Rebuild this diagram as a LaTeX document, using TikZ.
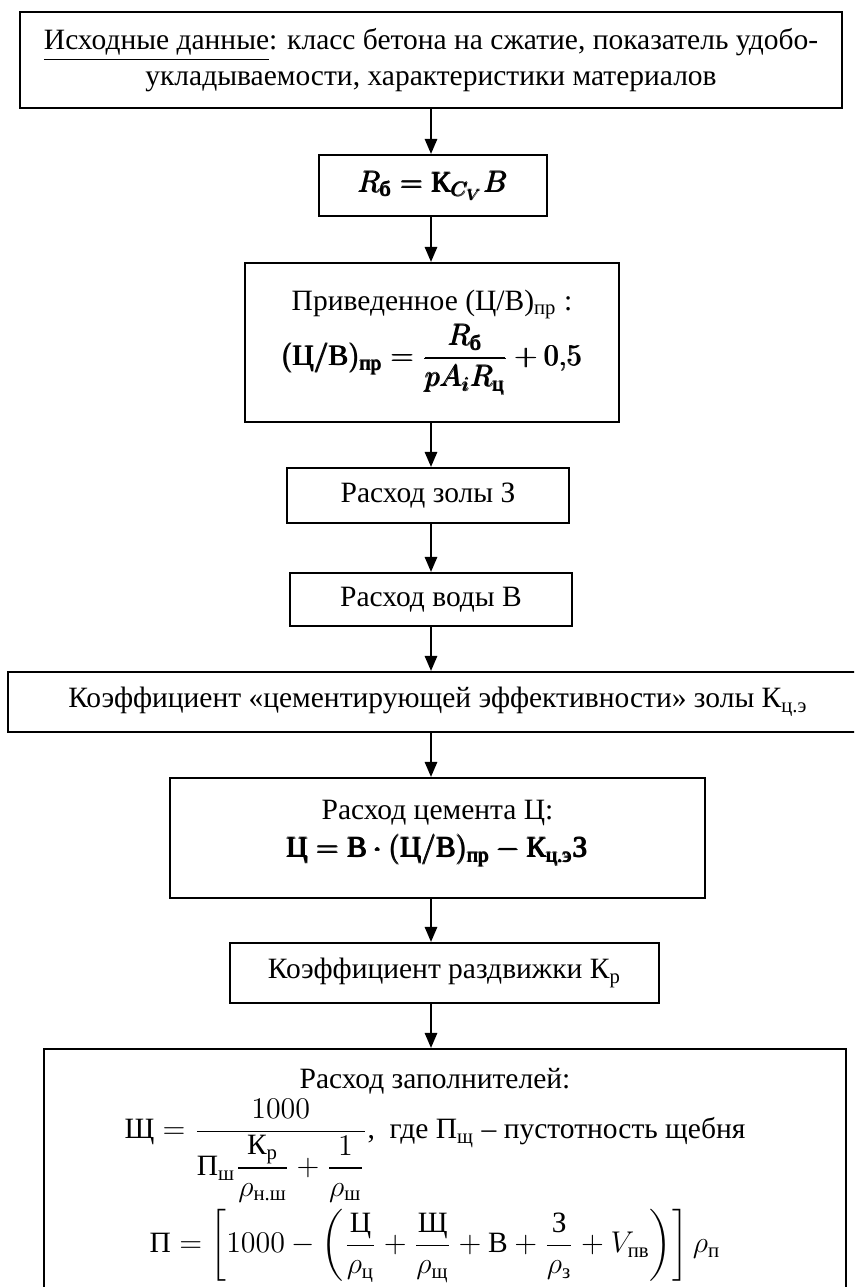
\documentclass[tikz,border=0pt]{standalone}
\usepackage{amsmath}
\usepackage{fontspec}
\setmainfont{Liberation Serif}
\usetikzlibrary{arrows.meta, positioning}
\newcommand{\cyr}[1]{\mathchoice{\mbox{#1}}{\mbox{#1}}{\mbox{\fontsize{8.3}{9}\selectfont #1}}{\mbox{\fontsize{6}{7}\selectfont #1}}}

\begin{document}
\begin{tikzpicture}[
        x=0.4pt, y=-0.4pt,
        >=Triangle,
        font=\fontsize{11.8}{14.4}\selectfont,
        box/.style={draw, line width=0.9pt, align=center, inner sep=2pt},
        lbl/.style={align=center, inner sep=0pt},
        arrow/.style={line width=0.6pt, -{Triangle[width=5pt, length=6pt]}}
    ]
        \useasboundingbox (0,0) rectangle (854,1287);
        \clip (0,0) rectangle (854,1287);
        \coordinate (spine) at (431,0);

        \node[box, minimum width=328.8pt, minimum height=38.4pt] (src) at (431,60)
            {\underline{Исходные данные}: класс бетона на сжатие, показатель удобо-\\укладываемости, характеристики материалов};
        \node[box, minimum width=91.2pt, minimum height=24.4pt] (rb) at (433,185.5)
            {\(\pmb{R_{\cyr{б}} = \cyr{К}_{C_V} B}\)};
        \node[box, minimum width=149.6pt, minimum height=63.6pt] (cw) at (432,342.5)
            {Приведенное (Ц/В)\textsubscript{пр} :\\[1pt]
             \(\pmb{(\cyr{Ц}/\cyr{В})_{\cyr{пр}} = \dfrac{R_{\cyr{б}}}{pA_iR_{\cyr{ц}}} + 0{,}5}\)};
        \node[box, minimum width=112.8pt, minimum height=22pt] (ash) at (428,495.5) {Расход золы З};
        \node[box, minimum width=112.8pt, minimum height=21.2pt] (water) at (431,599.5) {Расход воды В};
        \node[box, minimum width=348.8pt, minimum height=24pt] (keff) at (444,702) {};
        \node[lbl] (kefftxt) at (438,702) {Коэффициент «цементирующей эффективности» золы К\textsubscript{ц.э}};
        \node[box, minimum width=214pt, minimum height=48pt] (cem) at (437.5,838) {};
        \node[lbl, anchor=north] (cemtxt) at ([yshift=-9pt]cem.north)
            {Расход цемента Ц:\\[1pt]
             \(\pmb{\cyr{Ц} = \cyr{В}\cdot(\cyr{Ц}/\cyr{В})_{\cyr{пр}} - \cyr{К}_{\cyr{ц.э}}\cyr{З}}\)};
        \node[box, minimum width=171.6pt, minimum height=24pt] (kr) at (444.5,973) {Коэффициент раздвижки К\textsubscript{р}};
        \node[box, minimum width=320.8pt, minimum height=104.8pt] (agg) at (445,1180) {};
        \node[lbl, anchor=north] (aggtxt) at ([xshift=-4pt, yshift=-8pt]agg.north)
            {Расход заполнителей:\\[1pt]
             \(\cyr{Щ} = \dfrac{1000}{\cyr{П}_{\cyr{ш}}\dfrac{\cyr{К}_{\cyr{р}}}{\rho_{\cyr{н.ш}}} + \dfrac{1}{\rho_{\cyr{ш}}}}\),\enspace где П\textsubscript{щ} -- пустотность щебня\\[2pt]
             \(\cyr{П} = \left[1000 - \left(\dfrac{\cyr{Ц}}{\rho_{\cyr{ц}}} + \dfrac{\cyr{Щ}}{\rho_{\cyr{щ}}} + \cyr{В} + \dfrac{\cyr{З}}{\rho_{\cyr{з}}} + V_{\cyr{пв}}\right)\right]\rho_{\cyr{п}}\)};

        \draw[arrow] (src.south -| spine) -- (rb.north -| spine);
        \draw[arrow] (rb.south -| spine) -- (cw.north -| spine);
        \draw[arrow] (cw.south -| spine) -- (ash.north -| spine);
        \draw[arrow] (ash.south -| spine) -- (water.north -| spine);
        \draw[arrow] (water.south -| spine) -- (keff.north -| spine);
        \draw[arrow] (keff.south -| spine) -- (cem.north -| spine);
        \draw[arrow] (cem.south -| spine) -- (kr.north -| spine);
        \draw[arrow] (kr.south -| spine) -- (agg.north -| spine);
    \end{tikzpicture}
\end{document}
